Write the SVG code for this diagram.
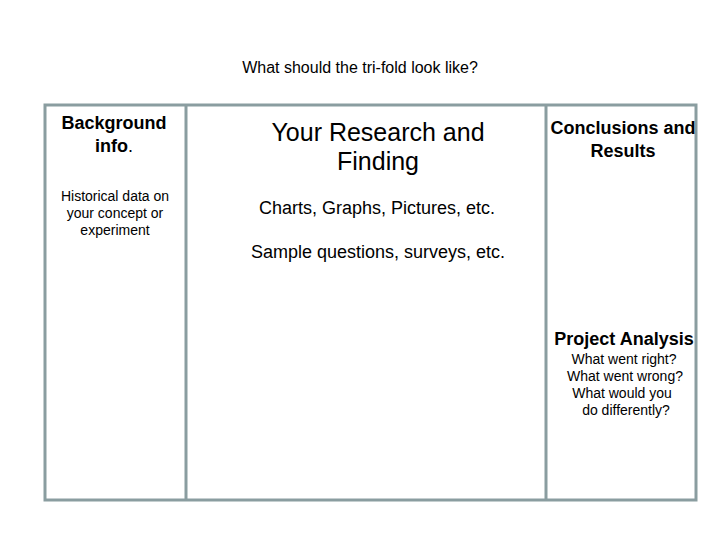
<svg xmlns="http://www.w3.org/2000/svg" width="720" height="540" viewBox="0 0 720 540">
<style>
text{font-family:"Liberation Sans",Arial,sans-serif;fill:#000;text-anchor:middle}
.b{font-weight:bold;font-size:18px}
.s{font-size:14px}
.m2{font-size:18px}
.l{font-size:25px}
.frame{fill:#fff;stroke:#8a9da0;stroke-width:3}
</style>
<rect width="720" height="540" fill="#fff"/>
<text x="360" y="73" style="font-size:16px">What should the tri-fold look like?</text>
<g id="panels">
<rect class="frame" x="45" y="105" width="651" height="395"/>
<line class="frame" x1="186" y1="105" x2="186" y2="500"/>
<line class="frame" x1="546" y1="105" x2="546" y2="500"/>
</g>
<g id="background">
<text class="b" x="114" y="129">Background</text>
<text class="b" x="114" y="152">info<tspan style="font-weight:normal">.</tspan></text>
<text class="s" x="115" y="201">Historical data on</text>
<text class="s" x="115" y="218">your concept or</text>
<text class="s" x="115" y="235">experiment</text>
</g>
<g id="research">
<text class="l" x="378" y="141">Your Research and</text>
<text class="l" x="378" y="170">Finding</text>
<text class="m2" x="377" y="214">Charts, Graphs, Pictures, etc.</text>
<text class="m2" x="378" y="258">Sample questions, surveys, etc.</text>
</g>
<g id="conclusions">
<text class="b" x="623" y="134">Conclusions and</text>
<text class="b" x="623" y="157">Results</text>
<text class="b" x="624" y="345">Project Analysis</text>
<text class="s" x="624" y="364">What went right?</text>
<text class="s" x="625" y="381">What went wrong?</text>
<text class="s" x="622" y="398">What would you</text>
<text class="s" x="626" y="415">do differently?</text>
</g>
</svg>
